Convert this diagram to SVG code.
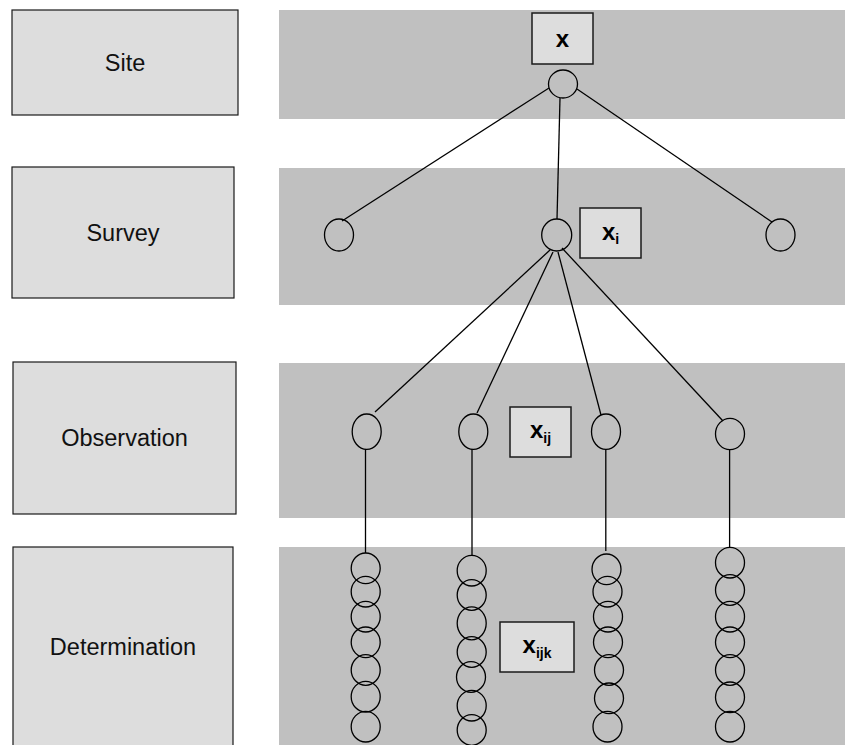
<svg xmlns="http://www.w3.org/2000/svg" width="845" height="745" viewBox="0 0 845 745">
<style>
.band{fill:#c0c0c0;stroke:none}
.lvl{fill:#dddddd;stroke:#1a1a1a;stroke-width:1.2}
.lbl{font-family:"Liberation Sans",Arial,sans-serif;font-size:23.5px;fill:#111;text-anchor:middle}
.var{fill:#dddddd;stroke:#1a1a1a;stroke-width:1.5}
.vt{font-family:"Liberation Sans",Arial,sans-serif;font-size:24px;font-weight:bold;fill:#000;text-anchor:middle}
.sub{font-size:14px}
.nd{fill:none;stroke:#000;stroke-width:1.3}
.cn line{stroke:#000;stroke-width:1.3}
</style>
<rect width="845" height="745" fill="#ffffff"/>
<g id="bands">
<rect class="band" x="279" y="10" width="566" height="109"/>
<rect class="band" x="279" y="168" width="566" height="137"/>
<rect class="band" x="279" y="363" width="566" height="155"/>
<rect class="band" x="279" y="547" width="566" height="198"/>
</g>
<g id="level-site"><rect class="lvl" x="12" y="10" width="226" height="105"/><text class="lbl" x="125" y="70.5">Site</text></g>
<g id="level-survey"><rect class="lvl" x="12" y="167" width="222" height="131"/><text class="lbl" x="123" y="240.5">Survey</text></g>
<g id="level-observation"><rect class="lvl" x="13" y="362" width="223" height="152"/><text class="lbl" x="124.5" y="446">Observation</text></g>
<g id="level-determination"><rect class="lvl" x="13" y="547" width="220" height="205"/><text class="lbl" x="123" y="655">Determination</text></g>
<g id="connectors" class="cn">
<line x1="549" y1="88" x2="342" y2="221"/>
<line x1="560" y1="98" x2="557" y2="219"/>
<line x1="577" y1="89" x2="772" y2="222"/>
<line x1="550" y1="250" x2="375" y2="412"/>
<line x1="553" y1="252" x2="477" y2="413"/>
<line x1="558" y1="252" x2="601" y2="415"/>
<line x1="562" y1="248" x2="723" y2="421"/>
<line x1="365.5" y1="449" x2="365.5" y2="553"/>
<line x1="472" y1="449" x2="472" y2="555"/>
<line x1="605.8" y1="449" x2="605.8" y2="551"/>
<line x1="729.6" y1="450" x2="729.6" y2="548"/>
</g>
<g id="var-x"><rect class="var" x="532" y="13" width="61" height="51"/><text class="vt" x="562.5" y="47">x</text></g>
<g id="var-xi"><rect class="var" x="580" y="208" width="61" height="50"/><text class="vt" x="610.5" y="240">x<tspan class="sub" dy="4">i</tspan></text></g>
<g id="var-xij"><rect class="var" x="510" y="407" width="61" height="50"/><text class="vt" x="540.5" y="438">x<tspan class="sub" dy="5">ij</tspan></text></g>
<g id="var-xijk"><rect class="var" x="500" y="622" width="74" height="50"/><text class="vt" x="537" y="653">x<tspan class="sub" dy="5">ijk</tspan></text></g>
<g id="node-site"><ellipse class="nd" cx="563" cy="84" rx="14.5" ry="14"/></g>
<g id="node-survey-1"><ellipse class="nd" cx="339" cy="235" rx="14.5" ry="16"/></g>
<g id="node-survey-2"><ellipse class="nd" cx="556.7" cy="235" rx="15" ry="16"/></g>
<g id="node-survey-3"><ellipse class="nd" cx="780.5" cy="235" rx="14.5" ry="16"/></g>
<g id="node-obs-1"><ellipse class="nd" cx="366.7" cy="431.7" rx="14.5" ry="17.7"/></g>
<g id="node-obs-2"><ellipse class="nd" cx="473.3" cy="431.7" rx="14.5" ry="17.7"/></g>
<g id="node-obs-3"><ellipse class="nd" cx="606" cy="431.7" rx="14.5" ry="17.7"/></g>
<g id="node-obs-4"><ellipse class="nd" cx="730" cy="434" rx="14.5" ry="15.7"/></g>
<g id="node-det-1">
<ellipse class="nd" cx="365.7" cy="568.3" rx="14.5" ry="15.3"/>
<ellipse class="nd" cx="365.7" cy="591.7" rx="14.5" ry="15.3"/>
<ellipse class="nd" cx="365.7" cy="616.7" rx="14.5" ry="15.3"/>
<ellipse class="nd" cx="365.7" cy="642.3" rx="14.5" ry="15.3"/>
<ellipse class="nd" cx="365.7" cy="670" rx="14.5" ry="15.3"/>
<ellipse class="nd" cx="365.7" cy="696.7" rx="14.5" ry="15.3"/>
<ellipse class="nd" cx="365.7" cy="726.7" rx="14.5" ry="15.3"/>
</g>
<g id="node-det-2">
<ellipse class="nd" cx="471.7" cy="570.7" rx="14.5" ry="15.3"/>
<ellipse class="nd" cx="471.7" cy="595" rx="14.5" ry="15.3"/>
<ellipse class="nd" cx="471.7" cy="623.3" rx="14.5" ry="16.5"/>
<ellipse class="nd" cx="471.7" cy="652" rx="14.5" ry="15.3"/>
<ellipse class="nd" cx="471" cy="677" rx="14.5" ry="15.3"/>
<ellipse class="nd" cx="471.7" cy="705.7" rx="14.5" ry="15.3"/>
<ellipse class="nd" cx="471.7" cy="730" rx="14.5" ry="15.3"/>
</g>
<g id="node-det-3">
<ellipse class="nd" cx="606.5" cy="569.3" rx="14.5" ry="15.3"/>
<ellipse class="nd" cx="607.5" cy="591.7" rx="14.5" ry="15.3"/>
<ellipse class="nd" cx="608" cy="616.7" rx="14.5" ry="15.3"/>
<ellipse class="nd" cx="608" cy="642.3" rx="14.5" ry="15.3"/>
<ellipse class="nd" cx="609" cy="670" rx="14.5" ry="15.3"/>
<ellipse class="nd" cx="609" cy="698.3" rx="14.5" ry="15.3"/>
<ellipse class="nd" cx="607.5" cy="726.7" rx="14.5" ry="15.3"/>
</g>
<g id="node-det-4">
<ellipse class="nd" cx="730" cy="562.7" rx="14.5" ry="15.3"/>
<ellipse class="nd" cx="730" cy="590" rx="14.5" ry="15.3"/>
<ellipse class="nd" cx="730" cy="616.7" rx="14.5" ry="15.3"/>
<ellipse class="nd" cx="730" cy="642.3" rx="14.5" ry="15.3"/>
<ellipse class="nd" cx="730" cy="670" rx="14.5" ry="15.3"/>
<ellipse class="nd" cx="730" cy="697.3" rx="14.5" ry="15.3"/>
<ellipse class="nd" cx="730" cy="726.7" rx="14.5" ry="15.3"/>
</g>
</svg>
